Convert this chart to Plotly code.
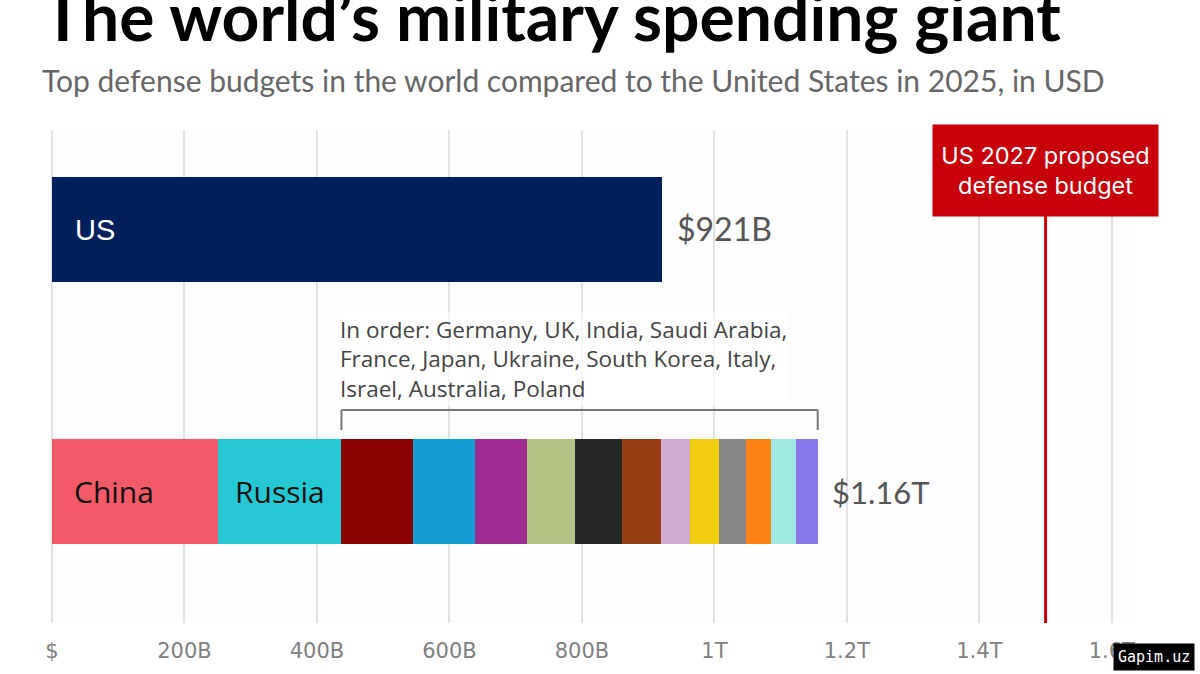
import plotly.graph_objects as go

# ---- data ----
countries = ["China", "Russia", "Germany", "UK", "India", "Saudi Arabia", "France",
             "Japan", "Ukraine", "South Korea", "Italy", "Israel", "Australia", "Poland"]
values = [251, 186, 108, 94, 78, 72, 71, 59, 44, 44, 40, 39, 37, 33]  # billions USD
colors = ["#F25A68", "#26C9D3", "#8B0000", "#129ED2", "#9E2B8F", "#B3C385", "#262727",
          "#963F12", "#D3AAD0", "#F3CD10", "#878787", "#FC8114", "#9EE9E2", "#8779EA"]
us_value = 921
us_label = "$921B"
others_label = "$1.16T"
proposed_2027 = 1500
tick_vals = [0, 200, 400, 600, 800, 1000, 1200, 1400, 1600]
tick_text = ["$", "200B", "400B", "600B", "800B", "1T", "1.2T", "1.4T", "1.6T"]

ROW_OTHERS, ROW_US = 0, 1
BAR_W = 0.4

fig = go.Figure()

fig.add_trace(go.Bar(
    x=[us_value], y=[ROW_US], orientation="h", width=BAR_W,
    marker=dict(color="#00205B", line=dict(width=0)),
    hoverinfo="skip", showlegend=False))

for name, v, c in zip(countries, values, colors):
    fig.add_trace(go.Bar(
        x=[v], y=[ROW_OTHERS], orientation="h", width=BAR_W, name=name,
        marker=dict(color=c, line=dict(width=0)),
        hoverinfo="skip", showlegend=False))

total = sum(values)
bracket_start = values[0] + values[1]

annotations = []
# bar labels
annotations.append(dict(x=0, y=ROW_US, xref="x", yref="y", text="US", showarrow=False,
                        xanchor="left", xshift=21, font=dict(family="Liberation Sans", size=29, color="white")))
annotations.append(dict(x=0, y=ROW_OTHERS, xref="x", yref="y", text="China", showarrow=False,
                        xanchor="left", xshift=20, font=dict(family="Open Sans", size=30, color="#111")))
annotations.append(dict(x=values[0], y=ROW_OTHERS, xref="x", yref="y", text="Russia", showarrow=False,
                        xanchor="left", xshift=15, font=dict(family="Open Sans", size=30, color="#111")))
annotations.append(dict(x=us_value, y=ROW_US, xref="x", yref="y", text=us_label, showarrow=False,
                        xanchor="left", xshift=13, yshift=1, font=dict(family="Lato", size=32, color="#555")))
annotations.append(dict(x=total, y=ROW_OTHERS, xref="x", yref="y", text=others_label, showarrow=False,
                        xanchor="left", xshift=12, font=dict(family="Lato", size=31, color="#555")))
# in-order note
annotations.append(dict(x=bracket_start, y=0.507, xref="x", yref="y",
                        text="In order: Germany, UK, India, Saudi Arabia,<br>France, Japan, Ukraine, South Korea, Italy,<br>Israel, Australia, Poland",
                        showarrow=False, xanchor="left", yanchor="middle", align="left", xshift=-3,
                        bgcolor="rgba(255,255,255,0.7)",
                        font=dict(family="Open Sans", size=22.5, color="#444")))
# proposed box
annotations.append(dict(x=proposed_2027, y=1.012, xref="x", yref="paper",
                        text="US 2027 proposed<br>defense budget", showarrow=False,
                        xanchor="center", yanchor="top", align="center",
                        bgcolor="#C8000A", width=221, height=87, borderpad=2,
                        font=dict(family="Inter", size=23.5, color="white")))
# title & subtitle
annotations.append(dict(x=-0.004, y=1.232, xref="paper", yref="paper", text="<b>The world’s military spending giant</b>",
                        showarrow=False, xanchor="left", yanchor="middle", xshift=-7,
                        font=dict(family="Lato", size=66, color="#000")))
annotations.append(dict(x=-0.0095, y=1.101, xref="paper", yref="paper",
                        text="Top defense budgets in the world compared to the United States in 2025, in USD",
                        showarrow=False, xanchor="left", yanchor="middle", xshift=-2,
                        font=dict(family="Lato", size=30, color="#666")))
# watermark
annotations.append(dict(x=1.0, y=0.0, xref="paper", yref="paper", text="Gapim.uz", showarrow=False,
                        xanchor="right", yanchor="top", xshift=60, yshift=-20, bgcolor="black",
                        font=dict(family="DejaVu Sans Mono", size=15, color="white"), borderpad=4))

shapes = [
    dict(type="line", xref="x", yref="paper", x0=proposed_2027, x1=proposed_2027, y0=0, y1=0.83,
         line=dict(color="#C8000A", width=3)),
    dict(type="line", xref="x", yref="y", x0=bracket_start, x1=total, y0=0.312, y1=0.312,
         line=dict(color="#777", width=2)),
    dict(type="line", xref="x", yref="y", x0=bracket_start, x1=bracket_start, y0=0.312, y1=0.236,
         line=dict(color="#777", width=2)),
    dict(type="line", xref="x", yref="y", x0=total, x1=total, y0=0.312, y1=0.236,
         line=dict(color="#777", width=2)),
]

fig.update_layout(
    width=1200, height=674,
    margin=dict(l=52, r=65, t=130, b=51),
    paper_bgcolor="white", plot_bgcolor="#FDFDFD",
    barmode="stack", bargap=0,
    annotations=annotations, shapes=shapes,
    xaxis=dict(range=[0, 1635], tickvals=tick_vals, ticktext=tick_text,
               showgrid=True, gridcolor="#E2E2E2", gridwidth=1.5,
               zeroline=True, zerolinecolor="#E2E2E2", zerolinewidth=1.5,
               showline=False, ticks="", ticklabelstandoff=13,
               tickfont=dict(family="DejaVu Sans", size=21, color="#808080"), fixedrange=True),
    yaxis=dict(range=[-0.5, 1.38], showticklabels=False, showgrid=False, zeroline=False,
               fixedrange=True),
)

fig.write_html("out.html")
